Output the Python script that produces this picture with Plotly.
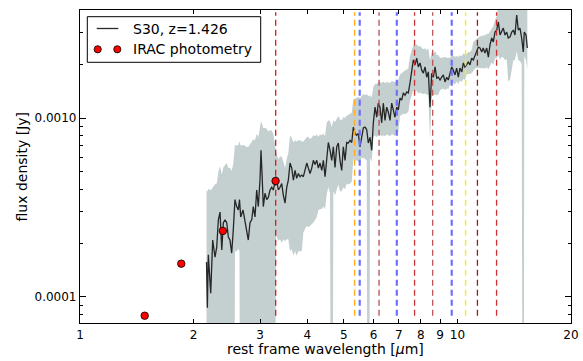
import math
import plotly.graph_objects as go

# ---------------- data ----------------
FLUX_UNIT = 1e-4  # Jy; spectrum lists below are in units of 1e-4 Jy

wave = [2.164, 2.175, 2.188, 2.220, 2.247, 2.279, 2.303, 2.326, 2.350, 2.375,
        2.398, 2.423, 2.448, 2.472, 2.497, 2.523, 2.548, 2.574, 2.601, 2.627,
        2.646, 2.666, 2.704, 2.737, 2.765, 2.792, 2.821, 2.851, 2.879, 2.909,
        2.939, 2.968, 2.999, 3.017, 3.036, 3.060, 3.092, 3.124, 3.155, 3.188,
        3.221, 3.253, 3.307, 3.354, 3.389, 3.424, 3.458, 3.494, 3.530, 3.565,
        3.602, 3.640, 3.676, 3.714, 3.752, 3.789, 3.829, 3.869, 3.907, 3.948,
        3.989, 4.028, 4.070, 4.112, 4.153, 4.196, 4.240, 4.281, 4.326, 4.371,
        4.414, 4.460, 4.506, 4.550, 4.598, 4.645, 4.691, 4.740, 4.789, 4.836,
        4.886, 4.937, 4.986, 5.038, 5.090, 5.140, 5.194, 5.248, 5.300, 5.355,
        5.411, 5.463, 5.520, 5.578, 5.633, 5.692, 5.751, 5.807, 5.868, 5.929,
        5.988, 6.050, 6.113, 6.172, 6.236, 6.301, 6.364, 6.430, 6.497, 6.560,
        6.629, 6.698, 6.764, 6.834, 6.906, 6.973, 7.046, 7.119, 7.190, 7.265,
        7.341, 7.413, 7.490, 7.568, 7.643, 7.723, 7.803, 7.879, 7.961, 8.044,
        8.124, 8.209, 8.294, 8.375, 8.462, 8.550, 8.635, 8.725, 8.816, 8.902,
        8.995, 9.088, 9.177, 9.272, 9.368, 9.461, 9.559, 9.658, 9.752, 9.854,
        9.956, 10.055, 10.16, 10.27, 10.37, 10.47, 10.58, 10.69, 10.80, 10.91,
        11.02, 11.13, 11.25, 11.36, 11.48, 11.60, 11.71, 11.83, 11.96, 12.08,
        12.20, 12.33, 12.45, 12.58, 12.71, 12.84, 12.97, 13.11, 13.23, 13.37,
        13.51, 13.64, 13.79, 13.93, 14.07, 14.21, 14.36, 14.50, 14.65, 14.80,
        14.95, 15.04, 15.20, 15.32]

flux = [1.57, 0.87, 1.72, 1.05, 2.08, 1.67, 1.90, 2.70, 2.98, 1.83,
        2.60, 2.70, 2.60, 2.16, 2.08, 1.76, 2.37, 3.50, 3.20, 3.06,
        3.50, 2.80, 3.06, 2.60, 2.28, 2.08, 2.60, 2.70, 3.20, 2.80,
        3.96, 3.20, 4.50, 6.60, 4.90, 3.20, 3.80, 3.50, 3.60, 3.96,
        4.10, 3.96, 4.70, 3.96, 4.10, 4.30, 3.70, 3.35, 4.10, 4.50,
        5.60, 5.25, 4.50, 5.10, 4.60, 4.90, 4.70, 4.80, 4.70, 5.10,
        5.60, 5.25, 4.90, 5.25, 5.80, 5.50, 5.80, 5.25, 5.60, 5.10,
        5.80, 4.70, 6.05, 7.30, 6.60, 5.80, 6.90, 5.30, 6.90, 7.25,
        5.80, 5.10, 6.90, 5.80, 7.30, 7.25, 7.50, 7.30, 8.90, 8.20,
        8.00, 8.20, 6.90, 8.00, 8.80, 8.90, 8.60, 7.25, 7.80, 6.60,
        9.40, 11.5, 10.1, 12.1, 11.5, 9.40, 12.1, 9.70, 11.5, 10.8,
        9.70, 12.1, 11.1, 10.1, 11.5, 11.1, 12.9, 12.6, 13.8, 13.4,
        14.0, 13.8, 15.7, 17.8, 21.1, 19.8, 21.6, 19.3, 20.3, 18.5,
        17.8, 19.3, 16.9, 18.1, 11.5, 17.8, 16.9, 19.3, 16.7, 16.9,
        16.3, 16.9, 17.4, 15.9, 16.9, 16.3, 18.1, 19.3, 18.5, 17.4,
        19.0, 16.9, 19.0, 18.1, 20.3, 19.3, 19.8, 20.6, 19.8, 21.6,
        21.1, 22.5, 23.4, 24.9, 24.6, 23.4, 24.6, 23.1, 24.6, 21.9,
        25.6, 28.0, 26.6, 30.2, 31.0, 34.4, 29.1, 31.0, 31.8, 29.1,
        30.2, 28.0, 28.4, 30.2, 31.0, 29.1, 37.6, 31.0, 31.8, 28.0,
        23.4, 30.2, 29.1, 24.6]

err_hi = [2.4, 3.0, 2.3, 2.9, 2.0, 2.6, 2.4, 2.3, 2.4, 3.0,
          2.7, 2.8, 3.0, 3.1, 3.2, 3.3, 3.2, 3.6, 3.8, 4.0,
          3.9, 4.2, 4.0, 4.4, 4.6, 4.8, 4.5, 4.6, 4.4, 4.7,
          4.2, 4.6, 4.2, 3.0, 4.4, 5.6, 5.0, 5.2, 4.8, 4.6,
          4.4, 4.2, 1.8, 1.9, 2.0, 1.8, 2.0, 1.9, 1.8, 1.9,
          2.4, 2.5, 2.8, 2.4, 2.8, 2.6, 2.8, 2.6, 2.7, 2.5,
          2.2, 2.6, 2.7, 2.5, 2.2, 2.4, 2.3, 2.6, 2.5, 2.9,
          2.4, 3.2, 3.4, 2.4, 3.0, 3.1, 2.8, 4.2, 3.0, 3.0,
          4.0, 4.6, 3.2, 4.2, 3.0, 3.2, 3.1, 3.4, 3.8, 4.6,
          5.0, 4.9, 6.0, 5.2, 4.8, 4.5, 5.0, 6.0, 5.6, 6.4,
          5.5, 4.0, 5.4, 3.8, 4.4, 6.3, 3.9, 6.0, 4.4, 5.0,
          6.0, 4.0, 4.9, 5.8, 4.5, 5.2, 4.6, 5.2, 4.4, 5.0,
          4.6, 5.2, 6.5, 6.2, 4.5, 5.6, 4.2, 5.8, 5.0, 6.2,
          6.4, 5.2, 7.0, 6.4, 9.5, 5.6, 6.0, 4.4, 5.8, 5.6,
          5.4, 4.8, 4.4, 6.0, 4.8, 5.4, 3.6, 3.0, 3.8, 4.6,
          3.2, 5.0, 3.4, 4.0, 2.6, 3.4, 3.0, 2.8, 3.6, 2.4,
          5.5, 4.6, 4.2, 3.4, 4.0, 5.2, 4.4, 5.8, 5.0, 7.6,
          5.0, 4.0, 6.0, 5.0, 6.0, 9.0, 12.0, 11.0, 12.0, 20.0,
          22.0, 25.0, 24.0, 22.0, 20.0, 25.0, 18.0, 22.0, 22.0, 26.0,
          28.0, 24.0, 26.0, 30.0]

err_lo = [9, 9, 9, 9, 9, 9, 9, 9, 9, 9,
          9, 9, 9, 9, 9, 9, 9, 1.7, 1.4, 1.2,
          1.7, 9, 9, 9, 9, 9, 9, 9, 9, 9,
          9, 9, 9, 9, 9, 9, 9, 9, 9, 9,
          9, 9, 2.5, 1.9, 2.0, 2.3, 1.6, 1.3, 2.0, 2.4,
          3.8, 3.4, 2.8, 3.3, 2.9, 3.1, 2.9, 3.0, 2.4, 2.7,
          3.1, 2.8, 2.4, 2.7, 3.2, 2.8, 3.0, 2.2, 2.5, 2.0,
          2.6, 1.6, 2.3, 3.2, 2.8, 9.0, 3.0, 1.6, 2.9, 3.0,
          1.9, 1.2, 2.8, 1.8, 3.0, 3.0, 3.2, 2.9, 3.0, 2.4,
          2.2, 2.5, 1.2, 2.0, 2.8, 3.0, 2.8, 9.0, 1.8, 0.9,
          1.6, 3.5, 2.3, 4.0, 3.4, 1.5, 4.1, 1.8, 3.4, 2.8,
          1.8, 4.0, 3.0, 2.2, 3.2, 2.8, 2.6, 2.2, 3.2, 2.9,
          3.4, 3.0, 3.2, 4.4, 6.8, 5.6, 7.4, 5.6, 6.4, 4.8,
          4.2, 5.6, 3.4, 4.6, 4.0, 4.4, 3.4, 5.8, 3.3, 3.4,
          2.0, 2.4, 2.8, 1.6, 2.3, 1.8, 2.8, 3.6, 2.8, 2.0,
          3.0, 1.4, 2.8, 2.2, 3.8, 3.0, 2.3, 3.0, 2.2, 3.8,
          2.6, 3.6, 4.4, 5.8, 5.6, 4.4, 5.6, 4.2, 5.4, 3.2,
          6.0, 7.6, 6.8, 8.6, 9.4, 12.0, 8.0, 9.0, 10.0, 8.0,
          9.0, 12.0, 12.0, 12.0, 10.0, 8.0, 14.0, 10.0, 11.0, 8.0,
          99.0, 8.0, 8.0, 6.0]

irac_wave = [1.484, 1.855, 2.391, 3.298]          # rest frame (3.6,4.5,5.8,8.0 um / 2.426)
irac_flux = [7.86e-5, 1.535e-4, 2.34e-4, 4.45e-4]  # Jy

line_wave = [3.3, 5.34, 5.51, 6.2, 6.91, 7.7, 8.6, 9.66, 10.51, 11.3, 12.7]
line_color = ["rgb(232,20,20)", "rgb(255,172,40)", "rgb(112,112,255)", "rgb(185,80,80)",
              "rgb(112,112,255)", "rgb(200,55,55)", "rgb(190,85,85)", "rgb(112,112,255)",
              "rgb(240,240,30)", "rgb(160,25,25)", "rgb(205,50,50)"]
line_width = [1.3, 1.4, 2.2, 1.3, 2.2, 1.3, 1.3, 2.2, 1.4, 1.3, 1.3]
line_ytop = 3.9e-3

x_ticks = [1, 2, 3, 4, 5, 6, 7, 8, 9, 10, 20]
x_ticktext = [str(v) for v in x_ticks]
y_ticks = [1e-4, 1e-3]
y_ticktext = ["0.0001", "0.0010"]
y_minor = [8e-5, 9e-5, 2e-4, 3e-4, 4e-4, 5e-4, 6e-4, 7e-4, 8e-4, 9e-4, 2e-3, 3e-3]

spec_label = "S30, z=1.426"
irac_label = "IRAC photometry"

# ---------------- figure ----------------
FONT = "DejaVu Sans"
fy = [f * FLUX_UNIT for f in flux]
upper = [(f + e) * FLUX_UNIT for f, e in zip(flux, err_hi)]
lower = [max(f - e, 1e-3) * FLUX_UNIT for f, e in zip(flux, err_lo)]

fig = go.Figure()
band = "rgb(196,207,207)"
fig.add_trace(go.Scatter(x=wave, y=lower, mode="lines", line=dict(width=0, color=band),
                         showlegend=False, hoverinfo="skip"))
fig.add_trace(go.Scatter(x=wave, y=upper, mode="lines", line=dict(width=0, color=band),
                         fill="tonexty", fillcolor=band, showlegend=False, hoverinfo="skip"))

fig.add_trace(go.Scatter(x=wave, y=fy, mode="lines",
                         line=dict(color="rgba(20,20,20,0.9)", width=1.3),
                         showlegend=False))

ybot = min(irac_flux)
for w, c, lw in zip(line_wave, line_color, line_width):
    fig.add_trace(go.Scatter(x=[w, w], y=[ybot, line_ytop], mode="lines",
                             line=dict(color=c, width=lw, dash="6px,4px"),
                             showlegend=False, hoverinfo="skip"))

fig.add_trace(go.Scatter(x=irac_wave, y=irac_flux, mode="markers",
                         marker=dict(color="red", size=7.5, line=dict(color="black", width=0.8)),
                         showlegend=False))

L, R, T, B = 80, 12, 10, 38
PW = 583 - L - R
PH = 361 - T - B


def px(xp):
    return (xp - L) / PW


def py(yp):
    return (361 - B - yp) / PH


shapes = []
annotations = []
# manual legend (matplotlib style, two markers)
shapes.append(dict(type="rect", xref="paper", yref="paper",
                   x0=px(87.3), x1=px(260.7), y0=py(62.3), y1=py(16.7),
                   line=dict(color="black", width=1), fillcolor="white", layer="above"))
shapes.append(dict(type="line", xref="paper", yref="paper",
                   x0=px(96.7), x1=px(118.3), y0=py(28.5), y1=py(28.5),
                   line=dict(color="rgba(20,20,20,0.9)", width=1.3), layer="above"))
r = 3.6
for cx in (97.7, 117.3):
    shapes.append(dict(type="circle", xref="paper", yref="paper",
                       x0=px(cx - r), x1=px(cx + r), y0=py(49.3 + r), y1=py(49.3 - r),
                       line=dict(color="black", width=0.8), fillcolor="red", layer="above"))
annotations.append(dict(text=spec_label, xref="paper", yref="paper", x=px(131), y=py(28.8),
                        xanchor="left", yanchor="middle", showarrow=False,
                        font=dict(family=FONT, size=14, color="black")))
annotations.append(dict(text=irac_label, xref="paper", yref="paper", x=px(131), y=py(49.3),
                        xanchor="left", yanchor="middle", showarrow=False,
                        font=dict(family=FONT, size=14, color="black")))
# axis titles
annotations.append(dict(text="rest frame wavelength [<i>μ</i>m]", xref="paper", yref="paper",
                        x=0.5, y=0, yanchor="top", yshift=-16, showarrow=False,
                        font=dict(family=FONT, size=14, color="black")))
annotations.append(dict(text="flux density [Jy]", xref="paper", yref="paper",
                        x=0, y=0.5, xanchor="right", xshift=-49, textangle=-90, showarrow=False,
                        font=dict(family=FONT, size=14, color="black")))

axis_common = dict(showgrid=False, zeroline=False, showline=True, linecolor="black",
                   linewidth=1.2, mirror="allticks", ticks="inside", tickcolor="black",
                   tickwidth=1, automargin=False,
                   tickfont=dict(family=FONT, size=12, color="black"))

fig.update_layout(
    template="none",
    width=583, height=361,
    margin=dict(l=L, r=R, t=T, b=B, autoexpand=False),
    paper_bgcolor="white", plot_bgcolor="white",
    showlegend=False,
    shapes=shapes, annotations=annotations,
    xaxis=dict(type="log", range=[0, math.log10(20)], tickmode="array",
               tickvals=x_ticks, ticktext=x_ticktext, ticklen=4, **axis_common),
    yaxis=dict(type="log", range=[-4.1453, -2.3966], tickmode="array",
               tickvals=y_ticks, ticktext=y_ticktext, ticklen=6,
               minor=dict(tickmode="array", tickvals=y_minor, ticks="inside", ticklen=3,
                          tickcolor="black", tickwidth=1),
               **axis_common),
)

fig.write_html("out.html")
